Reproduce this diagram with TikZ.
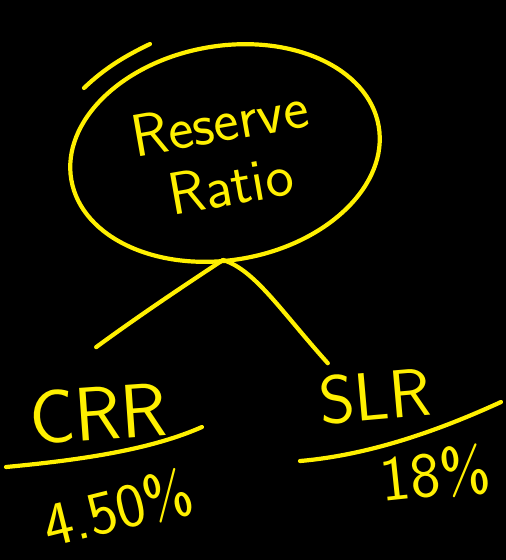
\documentclass[tikz,border=0pt]{standalone}
\usetikzlibrary{shapes.geometric}
\definecolor{chalk}{RGB}{255,240,0}

\begin{document}
\begin{tikzpicture}[x=1pt, y=-1pt,
    ink/.style={draw=chalk, line width=4.2pt, line cap=round, line join=round},
    hand/.style={text=chalk, inner sep=0pt, font=\sffamily\fontsize{#1}{#1}\selectfont}]

	\fill [black] (0,0) rectangle (506,560);

	% the ring with its title
	\node [ellipse, ink, minimum width=312pt, minimum height=214pt, rotate=10,
	       hand=60, align=center] (rr) at (225,153) {Reserve\\[4pt]Ratio};
	\draw [ink] (84,88) .. controls (105,68) and (125,56) .. (150,44);

	\coordinate (fork) at (223,260);

	% the two branches
	\node [hand=76, rotate=4] (crr) at (98,414) {CRR};
	\node [hand=68, rotate=5] (slr) at (375,396) {SLR};

	\draw [ink] (fork) .. controls (185,285) and (140,315) .. ([yshift=40pt]crr.north);
	\draw [ink] (fork) .. controls (255,270) and (280,310) .. ([xshift=-45pt,yshift=8pt]slr.north);

	% rules under the names
	\coordinate (crrL) at (6,467);
	\coordinate (crrR) at (202,427);
	\coordinate (slrL) at (300,461);
	\coordinate (slrR) at (501,402);
	\draw [ink] (crrL) .. controls (80,460) and (150,450) .. (crrR);
	\draw [ink] (slrL) .. controls (370,455) and (440,430) .. (slrR);

	\node [hand=62, rotate=14] (crrval) at (118,508) {4.50\%};
	\node [hand=64, rotate=6] (slrval) at (435,474) {18\%};
\end{tikzpicture}
\end{document}
